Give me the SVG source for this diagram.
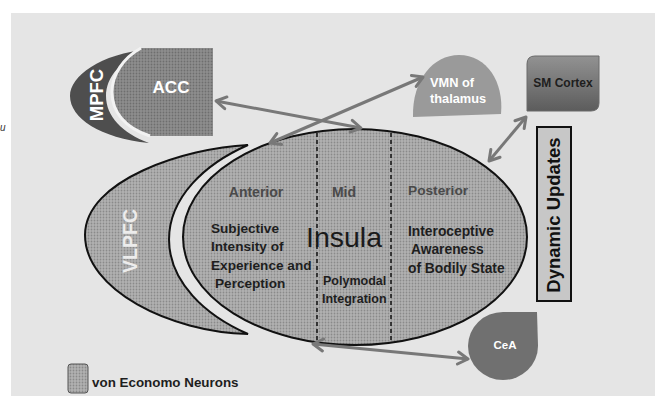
<svg xmlns="http://www.w3.org/2000/svg" width="655" height="396" viewBox="0 0 655 396">
<style>
.t{font-family:"Liberation Sans",Arial,sans-serif;font-weight:bold}
.dark{fill:#1e1e1e}
.grey{fill:#4a4a4a}
.white{fill:#ffffff}
.conn{stroke:#787878;stroke-width:3;fill:none;marker-start:url(#ah);marker-end:url(#ah)}
.outline{stroke:#111;stroke-width:2}
</style>
<defs>
<pattern id="dots" width="3" height="3" patternUnits="userSpaceOnUse"><rect width="3" height="3" fill="#b2b2b2"/><circle cx="1.5" cy="1.5" r="0.9" fill="#8a8a8a"/></pattern>
<pattern id="dotsDark" width="3" height="3" patternUnits="userSpaceOnUse"><rect width="3" height="3" fill="#8e8e8e"/><circle cx="1.5" cy="1.5" r="0.9" fill="#6e6e6e"/></pattern>
<linearGradient id="smg" x1="0" y1="0" x2="0" y2="1"><stop offset="0" stop-color="#929292"/><stop offset="1" stop-color="#5c5c5c"/></linearGradient>
<marker id="ah" viewBox="-13 -8 16 16" refX="0" refY="0" markerWidth="16" markerHeight="16" markerUnits="userSpaceOnUse" orient="auto-start-reverse"><path d="M-10,-6 L0,0 L-10,6" fill="none" stroke="#787878" stroke-width="3" stroke-linecap="round" stroke-linejoin="round"/></marker>
<clipPath id="insClip"><ellipse cx="355" cy="237" rx="172" ry="108"/></clipPath>
</defs>
<rect x="0" y="0" width="655" height="396" fill="#ffffff"/>
<rect x="11" y="13" width="644" height="383" fill="#e5e5e5"/>
<text x="0" y="131" font-family="Liberation Sans, sans-serif" font-style="italic" font-size="10" fill="#333">u</text>

<g id="mpfc">
<path d="M149,49 C100,54 70,76 70,96 C70,118 100,138 149,143 C122,133 106,116 106,96 C106,77 121,59 149,49 Z" fill="#4e4e4e"/>
<text class="t white" font-size="18.5" text-anchor="middle" transform="translate(103,95) rotate(-90)">MPFC</text>
</g>
<g id="acc">
<path d="M213,48 L141,48 C123,58 112,75 112,92 C112,112 125,128 150,136 L213,136 Z" fill="url(#dotsDark)"/>
<path d="M141,48 C123,58 112,75 112,92 C112,112 125,128 150,136" fill="none" stroke="#f2f2f2" stroke-width="3"/>
<text class="t white" x="171" y="93" font-size="17" text-anchor="middle">ACC</text>
</g>
<g id="vlpfc">
<path d="M248,145 C185,148 85,180 85,235 C85,290 170,332 248,334 A188,116 0 0 1 248,145 Z" fill="url(#dots)" class="outline"/>
<text class="t" fill="#ececec" font-size="19.5" text-anchor="middle" transform="translate(137,241) rotate(-90)">VLPFC</text>
</g>
<g id="insula">
<ellipse cx="355" cy="237" rx="172" ry="108" fill="url(#dots)" class="outline"/>
<g clip-path="url(#insClip)" stroke="#111" stroke-width="1.5" stroke-dasharray="4,3">
<line x1="317" y1="126" x2="317" y2="346"/>
<line x1="391" y1="126" x2="391" y2="346"/>
</g>
<text class="t grey" x="256" y="197" font-size="14" text-anchor="middle">Anterior</text>
<text class="t grey" x="344" y="197" font-size="14" text-anchor="middle">Mid</text>
<text class="t grey" x="408" y="195" font-size="13.7">Posterior</text>
<text class="t dark" font-size="13.6"><tspan x="211" y="233">Subjective</tspan><tspan x="211" y="251">Intensity of</tspan><tspan x="211" y="270">Experience and</tspan><tspan x="215" y="288">Perception</tspan></text>
<text x="344" y="247" font-family="Liberation Sans, Arial, sans-serif" font-size="28.5" fill="#1a1a1a" text-anchor="middle">Insula</text>
<text class="t dark" font-size="12.5"><tspan x="323" y="285">Polymodal</tspan><tspan x="322" y="303">Integration</tspan></text>
<text class="t dark" font-size="13.8"><tspan x="408" y="236">Interoceptive</tspan><tspan x="411" y="254">Awareness</tspan><tspan x="408" y="273">of Bodily State</tspan></text>
</g>
<g id="vmn">
<path d="M413,117 C412,80 433,55 459,55 C487,55 504,82 501,114 Z" fill="#9a9a9a"/>
<text class="t white" font-size="12.8"><tspan x="430" y="87">VMN of</tspan><tspan x="430" y="103">thalamus</tspan></text>
</g>
<g id="sm-cortex">
<path d="M535,56 L599,56 L599,103 Q599,111 591,111 L527,111 L527,64 Q527,56 535,56 Z" fill="url(#smg)" stroke="#6a6a6a" stroke-width="1"/>
<text class="t dark" x="563" y="87" font-size="12" text-anchor="middle">SM Cortex</text>
</g>
<g id="dynamic-updates">
<rect x="537" y="127" width="34" height="174" fill="#c7c7c7" stroke="#111" stroke-width="2"/>
<text class="t" fill="#111" font-size="18.5" text-anchor="middle" transform="translate(560,215) rotate(-90)">Dynamic Updates</text>
</g>
<g id="cea">
<path d="M537,312 L538,346 A35,34 0 1 1 503,312 Z" fill="#707070"/>
<text class="t white" x="505" y="349" font-size="11.5" text-anchor="middle">CeA</text>
</g>
<g id="legend">
<rect x="68" y="364" width="20" height="29" rx="3" fill="url(#dots)" stroke="#555" stroke-width="1"/>
<text class="t dark" x="92" y="387" font-size="13.4">von Economo Neurons</text>
</g>
<g id="connectors">
<line class="conn" x1="216" y1="101" x2="361" y2="128"/>
<line class="conn" x1="270" y1="143" x2="423" y2="77"/>
<line class="conn" x1="489" y1="161" x2="526" y2="117"/>
<line class="conn" x1="313" y1="344" x2="468" y2="359"/>
</g>
</svg>
